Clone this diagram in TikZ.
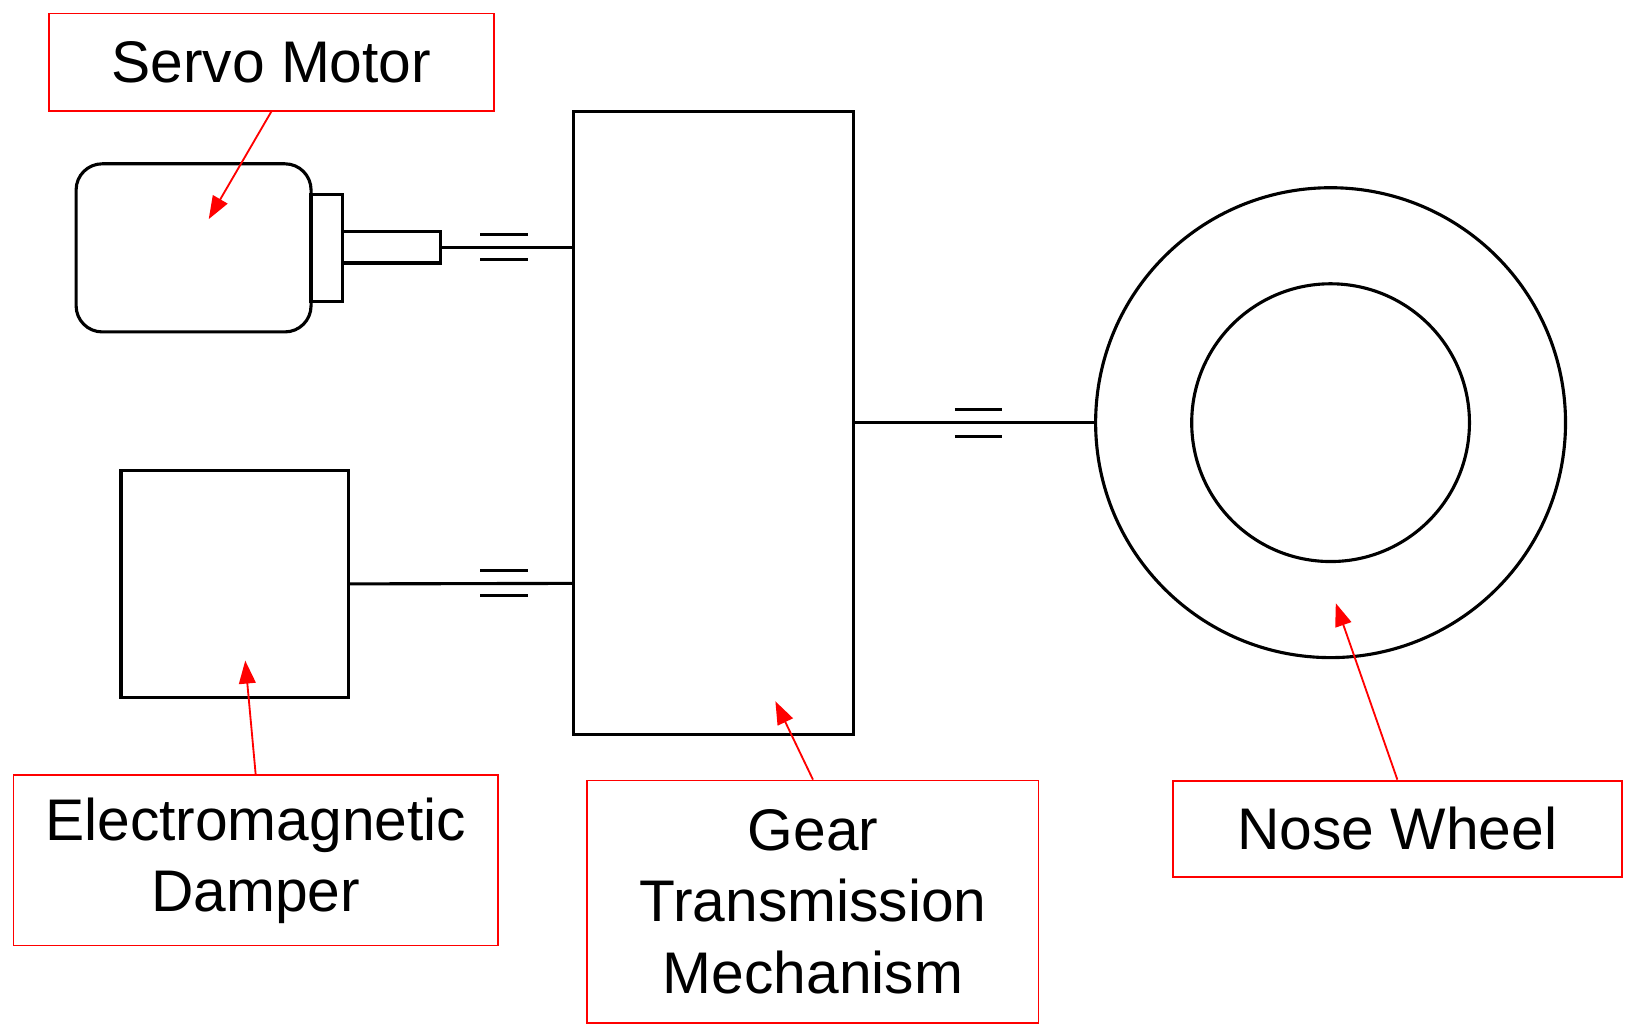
\documentclass[tikz,border=0pt]{standalone}
\usepackage{fontspec}
\setmainfont{Liberation Sans}
\usetikzlibrary{arrows.meta,positioning}

\begin{document}
\begin{tikzpicture}[
    x=0.01cm, y=-0.01cm,
    part/.style={draw, line width=0.85pt, inner sep=0pt},
    tag/.style={draw=red, line width=0.5pt, align=center, inner sep=0pt,
      font=\fontsize{16}{19.4}\selectfont},
    shaft/.style={line width=0.85pt},
    coupling/.style={line width=0.85pt},
    pointer/.style={red, line width=0.5pt, -{Triangle[length=2.2mm,width=1.6mm]}}
  ]
  \useasboundingbox (0,0) rectangle (1560,987);

  % Servo motor
  \node[part, rounded corners=0.25cm, minimum width=2.25cm, minimum height=1.61cm] (motor) at (185.5,237.5) {};
  \node[part, minimum width=0.3cm, minimum height=1.03cm] (flange) at (313,237.5) {};
  \node[part, minimum width=0.94cm, minimum height=0.3cm] (motorshaft) at (375,237) {};

  % Gear transmission
  \node[part, minimum width=2.68cm, minimum height=5.97cm] (gear) at (684,405.5) {};

  % Electromagnetic damper
  \node[part, minimum width=2.18cm, minimum height=2.17cm] (damper) at (225,559.5) {};

  % Nose wheel
  \node[part, circle, minimum size=4.5cm] (wheel) at (1275,405) {};
  \node[part, circle, minimum size=2.66cm] (hub) at (1275,405) {};

  % Shafts
  \coordinate (g1) at (550,237);
  \coordinate (g2) at (550,559);
  \coordinate (g3) at (818,405);
  \draw[shaft] (motorshaft.east) -- (g1);
  \draw[shaft] (damper.east) -- (g2);
  \draw[shaft] (g3) -- (wheel.west);

  % Couplings
  \foreach \y in {225,249} \draw[coupling] (460,\y) -- (506,\y);
  \foreach \y in {547,571} \draw[coupling] (460,\y) -- (506,\y);
  \foreach \y in {392,418} \draw[coupling] (915,\y) -- (960,\y);

  % Labels
  \node[tag, minimum width=4.26cm, minimum height=0.93cm] (lmotor) at (260,59.5) {Servo Motor};
  \node[tag, minimum width=4.64cm, minimum height=1.63cm] (ldamper) at (245,824.5) {Electromagnetic\\Damper};
  \node[tag, minimum width=4.32cm, minimum height=2.32cm] (lgear) at (779,864) {Gear\\Transmission\\Mechanism};
  \node[tag, minimum width=4.3cm, minimum height=0.92cm] (lwheel) at (1339,794) {Nose Wheel};

  % Pointers
  \coordinate (pmotor) at (200,210);
  \coordinate (pdamper) at (235,633);
  \coordinate (pgear) at (743,672);
  \coordinate (pwheel) at (1280,578);
  \draw[pointer] (lmotor.south) -- (pmotor);
  \draw[pointer] (ldamper.north) -- (pdamper);
  \draw[pointer] (lgear.north) -- (pgear);
  \draw[pointer] (lwheel.north) -- (pwheel);

\end{tikzpicture}
\end{document}
